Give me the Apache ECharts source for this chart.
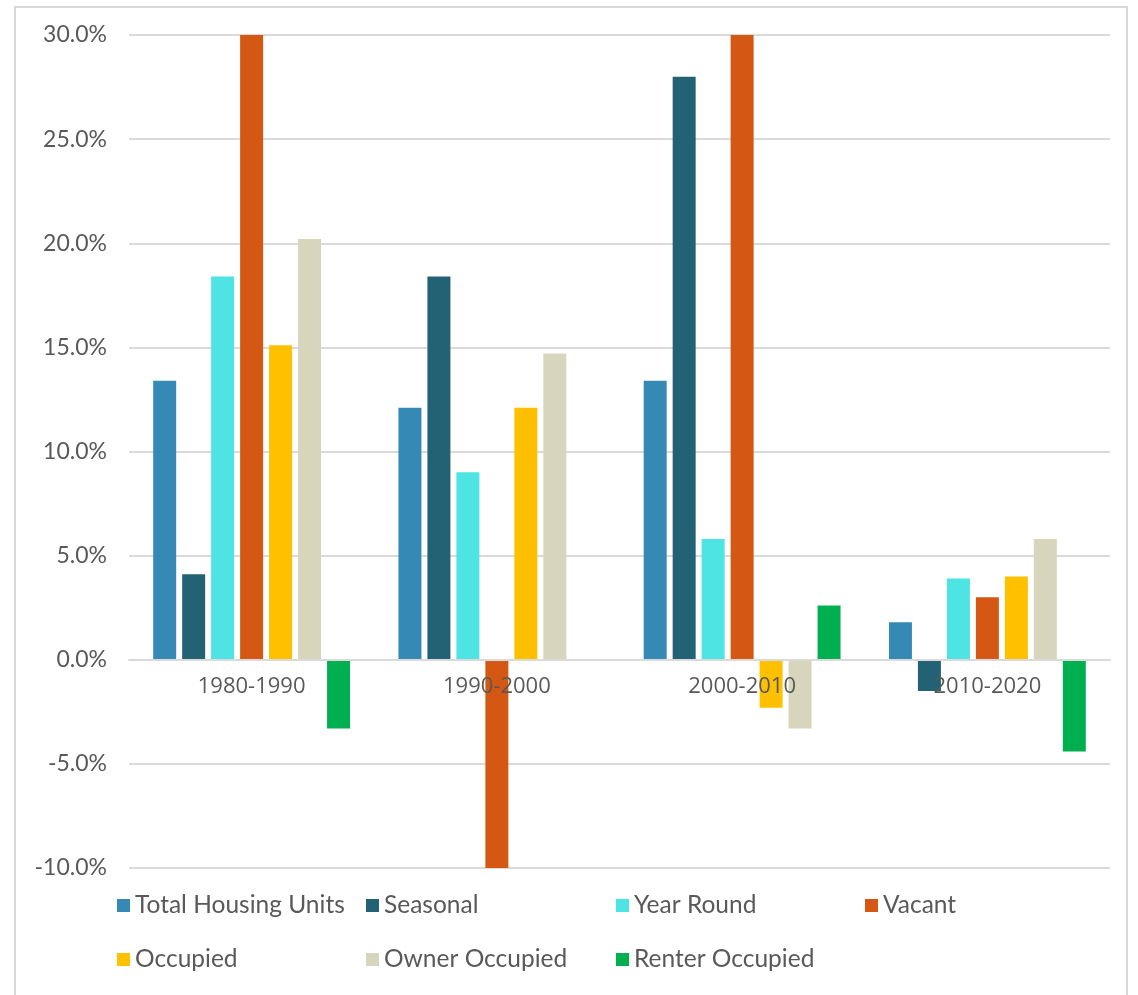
<!DOCTYPE html>
<html>
<head>
<meta charset="utf-8">
<title>Housing Unit Change by Decade</title>
<script src="https://cdn.jsdelivr.net/npm/echarts@6/dist/echarts.min.js"></script>
<style>
  html, body { margin: 0; padding: 0; background: #ffffff; }
  #chart { width: 1138px; height: 995px; }
</style>
</head>
<body>
<div id="chart"></div>
<script>
// Percent change in housing units per decade
const categories = ['1980-1990', '1990-2000', '2000-2010', '2010-2020'];
const totalHousingUnits = [13.4, 12.1, 13.4, 1.8];
const seasonal = [4.1, 18.4, 28.0, -1.5];
const yearRound = [18.4, 9.0, 5.8, 3.9];
const vacant = [34.6, -10.1, 41.3, 3.0];   // values above 30% run off the top of the axis
const occupied = [15.1, 12.1, -2.3, 4.0];
const ownerOccupied = [20.2, 14.7, -3.3, 5.8];
const renterOccupied = [-3.3, 0, 2.6, -4.4];

const seriesNames = ['Total Housing Units', 'Seasonal', 'Year Round', 'Vacant',
                     'Occupied', 'Owner Occupied', 'Renter Occupied'];
const seriesValues = [totalHousingUnits, seasonal, yearRound, vacant,
                      occupied, ownerOccupied, renterOccupied];
const seriesColors = ['#348AB4', '#226274', '#4DE4E3', '#D45814',
                      '#FFC000', '#D7D5BB', '#00B050'];

const yMin = -10, yMax = 30, yStep = 5;

const textColor = '#595959';
const gridColor = '#dadada';
const legendFont = 'Lato, "Open Sans", sans-serif';

// Plot box in pixels
const gridTop = 35, gridBottom = 127;
const plotHeight = 995 - gridTop - gridBottom;
// Category labels sit on the zero line, so lift the x axis from the bottom edge to it
const zeroOffset = -plotHeight * (0 - yMin) / (yMax - yMin);

const chart = echarts.init(document.getElementById('chart'), null, { renderer: 'canvas' });

// Legend laid out in columns, two rows
const legendColumns = [
  { left: 117, names: ['Total Housing Units', 'Occupied'] },
  { left: 366, names: ['Seasonal', 'Owner Occupied'] },
  { left: 616, names: ['Year Round', 'Renter Occupied'] },
  { left: 865, names: ['Vacant'] }
];

const option = {
  backgroundColor: '#ffffff',
  animation: false,
  graphic: [{
    type: 'rect',
    silent: true,
    z: -10,
    shape: { x: 15, y: 7, width: 1112, height: 1010 },
    style: { fill: 'none', stroke: '#d9d9d9', lineWidth: 2 }
  }],
  legend: legendColumns.map(col => ({
    orient: 'vertical',
    left: col.left,
    top: 893,
    padding: 0,
    itemWidth: 13,
    itemHeight: 13,
    itemGap: 29,
    icon: 'rect',
    data: col.names,
    textStyle: {
      color: textColor,
      fontFamily: legendFont,
      fontSize: 24.5,
      lineHeight: 24
    }
  })),
  grid: { left: 129, right: 28, top: gridTop, bottom: gridBottom, containLabel: false },
  xAxis: {
    type: 'category',
    data: categories,
    z: 10,
    offset: zeroOffset,
    axisLine: { show: true, onZero: false, lineStyle: { color: gridColor, width: 2 } },
    axisTick: { show: false },
    axisLabel: {
      color: textColor,
      fontFamily: '"Open Sans", sans-serif',
      fontSize: 22,
      margin: 16
    }
  },
  yAxis: {
    type: 'value',
    min: yMin,
    max: yMax,
    interval: yStep,
    axisLine: { show: false },
    axisTick: { show: false },
    splitLine: { lineStyle: { color: gridColor, width: 2 } },
    axisLabel: {
      color: textColor,
      fontFamily: legendFont,
      fontSize: 23,
      margin: 22,
      formatter: v => v.toFixed(1) + '%'
    }
  },
  series: seriesNames.map((name, i) => ({
    name: name,
    type: 'bar',
    data: seriesValues[i],
    barWidth: 23,
    barGap: '26%',
    clip: true,
    itemStyle: { color: seriesColors[i] }
  }))
};

chart.setOption(option);
</script>
</body>
</html>
